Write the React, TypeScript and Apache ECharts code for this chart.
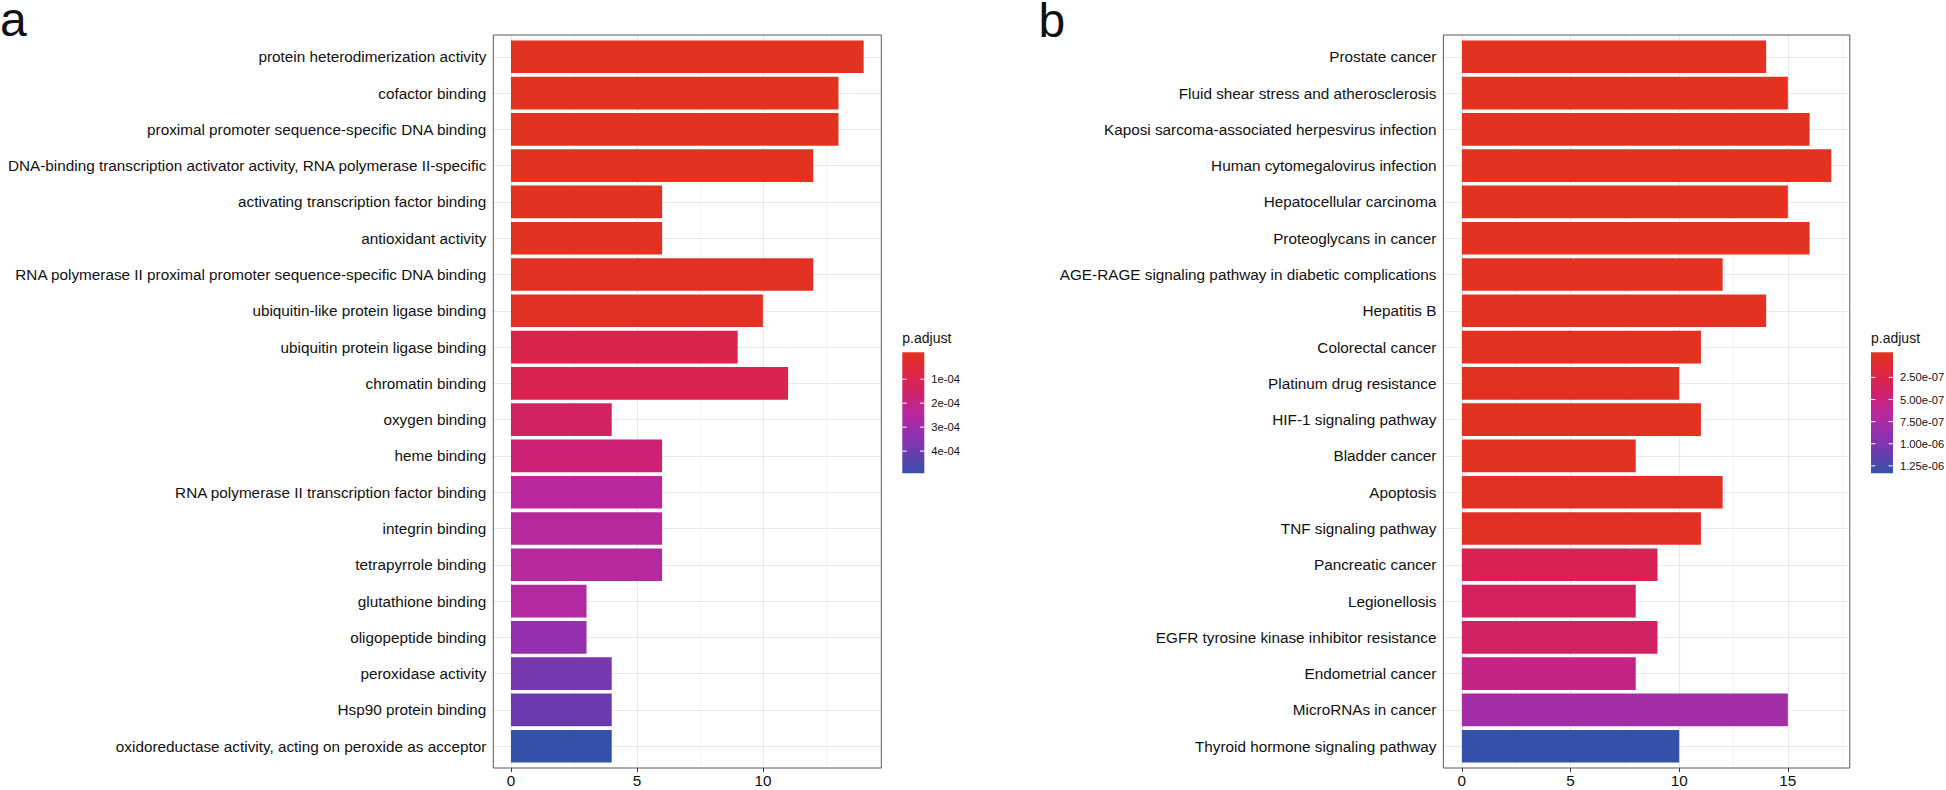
import React, { useEffect, useRef } from "react";
import * as echarts from "echarts";

// ---------- data ----------
const goTerms = [
  "protein heterodimerization activity",
  "cofactor binding",
  "proximal promoter sequence-specific DNA binding",
  "DNA-binding transcription activator activity, RNA polymerase II-specific",
  "activating transcription factor binding",
  "antioxidant activity",
  "RNA polymerase II proximal promoter sequence-specific DNA binding",
  "ubiquitin-like protein ligase binding",
  "ubiquitin protein ligase binding",
  "chromatin binding",
  "oxygen binding",
  "heme binding",
  "RNA polymerase II transcription factor binding",
  "integrin binding",
  "tetrapyrrole binding",
  "glutathione binding",
  "oligopeptide binding",
  "peroxidase activity",
  "Hsp90 protein binding",
  "oxidoreductase activity, acting on peroxide as acceptor",
];
const goCounts = [14, 13, 13, 12, 6, 6, 12, 10, 9, 11, 4, 6, 6, 6, 6, 3, 3, 4, 4, 4];
const goPAdjust = [
  2e-7, 6e-7, 1e-6, 2e-6, 4e-6, 6e-6, 9e-6, 1.4e-5, 1.06e-4, 1.08e-4,
  1.45e-4, 1.8e-4, 2.4e-4, 2.45e-4, 2.5e-4, 2.55e-4, 3.2e-4, 3.75e-4, 4.0e-4, 4.8e-4,
];
const goXTicks = [0, 5, 10];
const goLegendTicks = [1e-4, 2e-4, 3e-4, 4e-4];
const goLegendLabels = ["1e-04", "2e-04", "3e-04", "4e-04"];

const keggTerms = [
  "Prostate cancer",
  "Fluid shear stress and atherosclerosis",
  "Kaposi sarcoma-associated herpesvirus infection",
  "Human cytomegalovirus infection",
  "Hepatocellular carcinoma",
  "Proteoglycans in cancer",
  "AGE-RAGE signaling pathway in diabetic complications",
  "Hepatitis B",
  "Colorectal cancer",
  "Platinum drug resistance",
  "HIF-1 signaling pathway",
  "Bladder cancer",
  "Apoptosis",
  "TNF signaling pathway",
  "Pancreatic cancer",
  "Legionellosis",
  "EGFR tyrosine kinase inhibitor resistance",
  "Endometrial cancer",
  "MicroRNAs in cancer",
  "Thyroid hormone signaling pathway",
];
const keggCounts = [14, 15, 16, 17, 15, 16, 12, 14, 11, 10, 11, 8, 12, 11, 9, 8, 9, 8, 15, 10];
const keggPAdjust = [
  3e-10, 6e-10, 9e-10, 1.2e-9, 2e-9, 3e-9, 5e-9, 7e-9, 1e-8, 1.3e-8,
  1.6e-8, 2e-8, 2.6e-8, 3.4e-8, 3.1e-7, 3.6e-7, 4.0e-7, 5.5e-7, 7.8e-7, 1.3e-6,
];
const keggXTicks = [0, 5, 10, 15];
const keggLegendTicks = [2.5e-7, 5e-7, 7.5e-7, 1e-6, 1.25e-6];
const keggLegendLabels = ["2.50e-07", "5.00e-07", "7.50e-07", "1.00e-06", "1.25e-06"];

const colorStops = ["#E3321F", "#DE2540", "#D0216A", "#BA279C", "#9430AE", "#6A3BAE", "#3451A8"];

// ---------- layout / style ----------
const FONT = "'Liberation Sans', Arial, Helvetica, sans-serif";
const TEXT = "#111111";
const FRAME_TOP = 35;
const FRAME_BOTTOM = 768;
const LEG_TOP = 352.3;
const LEG_H = 121;
const LEG_W = 22;

const panels = [
  {
    letter: "a", letterX: 0, letterY: 19.4,
    terms: goTerms, counts: goCounts, padj: goPAdjust, xTicks: goXTicks,
    legendTicks: goLegendTicks, legendLabels: goLegendLabels,
    frameLeft: 493.3, frameRight: 881.3, legendLeft: 902.3, splitNumber: 3,
  },
  {
    letter: "b", letterX: 1038.5, letterY: 20.1,
    terms: keggTerms, counts: keggCounts, padj: keggPAdjust, xTicks: keggXTicks,
    legendTicks: keggLegendTicks, legendLabels: keggLegendLabels,
    frameLeft: 1443.4, frameRight: 1849.8, legendLeft: 1871, splitNumber: 4,
  },
];

function buildOption() {
  const grid: any[] = [];
  const xAxis: any[] = [];
  const yAxis: any[] = [];
  const series: any[] = [];
  const visualMap: any[] = [];
  const graphic: any[] = [];

  panels.forEach((p, k) => {
    const n = p.terms.length;
    const maxC = Math.max(...p.counts);
    const xMin = -0.05 * maxC;
    const xMax = 1.05 * maxC;
    const fw = p.frameRight - p.frameLeft;
    const fh = FRAME_BOTTOM - FRAME_TOP;
    const unit = fh / (n + 0.2);
    const lo = Math.min(...p.padj);
    const hi = Math.max(...p.padj);

    // outer frame grid (vertical grid lines, x axis)
    grid.push({ left: p.frameLeft, top: FRAME_TOP, width: fw, height: fh, show: false });
    // inner grid for bars (discrete expansion 0.6)
    grid.push({ left: p.frameLeft, top: FRAME_TOP + 0.1 * unit, width: fw, height: n * unit, show: false });

    xAxis.push({
      gridIndex: 2 * k,
      type: "value",
      min: xMin,
      max: xMax,
      splitNumber: p.splitNumber,
      axisLine: { show: false },
      axisTick: { show: true, customValues: p.xTicks, length: 4, lineStyle: { color: "#333", width: 1 } },
      axisLabel: { show: true, customValues: p.xTicks, margin: 5, fontSize: 15.3, color: TEXT, fontFamily: FONT },
      splitLine: { show: true, lineStyle: { color: "#E9E9E9", width: 1.2 } },
      minorTick: { show: false, splitNumber: 2 },
      minorSplitLine: { show: true, lineStyle: { color: "#F3F3F3", width: 0.9 } },
    });
    yAxis.push({ gridIndex: 2 * k, type: "value", min: 0, max: 1, show: false });

    xAxis.push({ gridIndex: 2 * k + 1, type: "value", min: xMin, max: xMax, show: false });
    yAxis.push({
      gridIndex: 2 * k + 1,
      type: "category",
      data: p.terms,
      inverse: true,
      axisLine: { show: false },
      axisTick: { show: true, alignWithLabel: true, length: 5, lineStyle: { color: "#333", width: 1 } },
      axisLabel: { margin: 7, fontSize: 15.3, color: TEXT, fontFamily: FONT },
      splitLine: { show: false },
    });

    series.push({
      type: "bar",
      xAxisIndex: 2 * k + 1,
      yAxisIndex: 2 * k + 1,
      data: p.counts.map((c, i) => [c, i, p.padj[i]]),
      encode: { x: 0, y: 1 },
      barCategoryGap: "10%",
      silent: true,
      markLine: {
        silent: true,
        symbol: ["none", "none"],
        z: 1,
        label: { show: false },
        emphasis: { disabled: true },
        lineStyle: { color: "#E9E9E9", width: 1.2, type: "solid" },
        data: p.terms.map((_, i) => ({ yAxis: i })),
      },
    });

    visualMap.push({
      type: "continuous",
      show: false,
      seriesIndex: k,
      dimension: 2,
      min: lo,
      max: hi,
      inRange: { color: colorStops },
    });

    // panel frame
    graphic.push({
      type: "rect",
      z: 100,
      silent: true,
      shape: { x: p.frameLeft, y: FRAME_TOP, width: fw, height: fh },
      style: { fill: "none", stroke: "#5a5a5a", lineWidth: 1 },
    });

    // panel letter
    graphic.push({
      type: "text",
      x: p.letterX,
      y: p.letterY,
      z: 100,
      style: {
        text: p.letter,
        fontSize: 48,
        lineHeight: 36,
        fontFamily: FONT,
        fill: "#111",
        textAlign: "left",
        textVerticalAlign: "middle",
      },
    });

    // legend title
    graphic.push({
      type: "text",
      x: p.legendLeft,
      y: 338.1,
      z: 100,
      style: {
        text: "p.adjust",
        fontSize: 14,
        fontFamily: FONT,
        fill: TEXT,
        textAlign: "left",
        textVerticalAlign: "middle",
      },
    });

    // legend colour bar
    graphic.push({
      type: "rect",
      z: 100,
      silent: true,
      shape: { x: p.legendLeft, y: LEG_TOP, width: LEG_W, height: LEG_H },
      style: {
        fill: {
          type: "linear",
          x: 0, y: 0, x2: 0, y2: 1,
          colorStops: colorStops.map((c, i) => ({ offset: i / (colorStops.length - 1), color: c })),
        },
      },
    });

    const half = LEG_H / 40;
    p.legendTicks.forEach((v, i) => {
      const y = LEG_TOP + half + ((v - lo) / (hi - lo)) * (LEG_H - 2 * half);
      graphic.push({
        type: "line",
        z: 101,
        silent: true,
        shape: { x1: p.legendLeft, y1: y, x2: p.legendLeft + LEG_W / 5, y2: y },
        style: { stroke: "#ffffff", lineWidth: 1 },
      });
      graphic.push({
        type: "line",
        z: 101,
        silent: true,
        shape: { x1: p.legendLeft + LEG_W - LEG_W / 5, y1: y, x2: p.legendLeft + LEG_W, y2: y },
        style: { stroke: "#ffffff", lineWidth: 1 },
      });
      graphic.push({
        type: "text",
        x: p.legendLeft + LEG_W + 7,
        y,
        z: 101,
        style: {
          text: p.legendLabels[i],
          fontSize: 11.2,
          fontFamily: FONT,
          fill: TEXT,
          textAlign: "left",
          textVerticalAlign: "middle",
        },
      });
    });
  });

  return {
    animation: false,
    backgroundColor: "#ffffff",
    grid,
    xAxis,
    yAxis,
    series,
    visualMap,
    graphic,
  };
}

export default function App() {
  const ref = useRef<HTMLDivElement>(null);
  useEffect(() => {
    document.body.style.margin = "0";
    const chart = echarts.init(ref.current as HTMLDivElement, null, { renderer: "svg" });
    chart.setOption(buildOption() as any);
    return () => chart.dispose();
  }, []);
  return <div ref={ref} style={{ width: 1946, height: 790 }} />;
}
